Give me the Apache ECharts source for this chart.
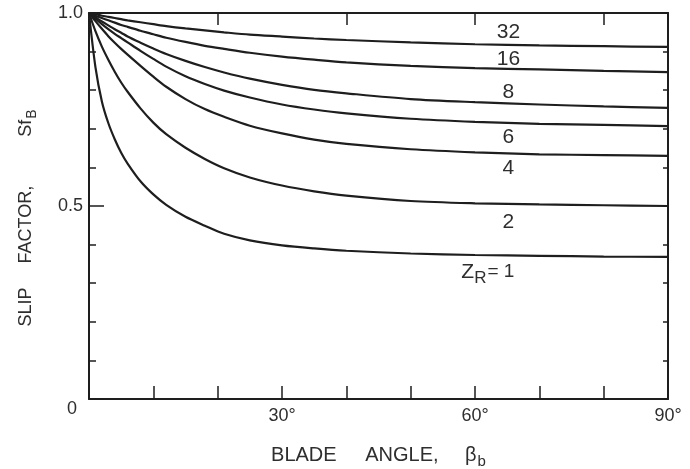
<!DOCTYPE html>
<html>
<head>
<meta charset="utf-8">
<script src="https://cdn.jsdelivr.net/npm/echarts@6/dist/echarts.min.js"></script>
<style>html,body{margin:0;padding:0;background:#fff;}#c{width:690px;height:469px;}</style>
</head>
<body>
<div id="c"></div>
<script>
// Blade angle (degrees)
const angles = [0,1,2,3,4,5,6,8,10,12,15,18,21,25,30,35,40,50,60,70,80,90];
// Slip factor read for each blade number Z_R
const z1  = [1.0,0.860,0.771,0.715,0.673,0.638,0.610,0.564,0.530,0.503,0.472,0.449,0.428,0.411,0.398,0.390,0.384,0.377,0.373,0.371,0.369,0.368];
const z2  = [1.0,0.953,0.913,0.879,0.848,0.820,0.796,0.753,0.716,0.686,0.651,0.622,0.598,0.574,0.553,0.538,0.527,0.513,0.507,0.504,0.502,0.500];
const z4  = [1.0,0.979,0.959,0.940,0.923,0.907,0.892,0.863,0.835,0.809,0.777,0.751,0.731,0.708,0.688,0.672,0.661,0.647,0.639,0.634,0.632,0.630];
const z6  = [1.0,0.985,0.971,0.958,0.946,0.935,0.924,0.902,0.881,0.861,0.836,0.816,0.799,0.781,0.763,0.750,0.740,0.726,0.718,0.713,0.710,0.707];
const z8  = [1.0,0.989,0.978,0.968,0.958,0.949,0.939,0.923,0.908,0.894,0.876,0.860,0.846,0.830,0.814,0.801,0.792,0.777,0.769,0.763,0.758,0.754];
const z16 = [1.0,0.993,0.987,0.981,0.975,0.969,0.964,0.954,0.945,0.936,0.925,0.915,0.907,0.897,0.887,0.879,0.872,0.863,0.857,0.854,0.850,0.847];
const z32 = [1.0,0.997,0.993,0.990,0.987,0.984,0.981,0.976,0.971,0.966,0.960,0.955,0.950,0.944,0.939,0.934,0.930,0.924,0.919,0.916,0.914,0.912];
const curveNames = ['1','2','4','6','8','16','32'];
const xTickLabels = {30:'30°',60:'60°',90:'90°'};
const yTickLabels = {0:'0',5:'0.5',10:'1.0'};

const FONT = 'Liberation Sans, Arial, Helvetica, sans-serif';
const INK = '#1e1e1e';
const TXT = '#2e2e2e';

const seriesData = [z1,z2,z4,z6,z8,z16,z32];
// label placement for each curve (in data coordinates)
const labelAt = {
  '1':[62,0.329], '2':[65.2,0.459], '4':[65.2,0.598], '6':[65.2,0.679],
  '8':[65.2,0.795], '16':[65.2,0.881], '32':[65.2,0.951]
};

const series = seriesData.map((vals, i) => {
  const nm = curveNames[i];
  const lbl = nm === '1' ? '{z|Z}{s|R}{e|= 1}' : nm;
  return {
    type:'line', name:'Z'+nm, xAxisIndex:0, yAxisIndex:0,
    data: angles.map((a,k)=>[a, vals[k]]),
    smooth:0.3, symbol:'none',
    lineStyle:{color:INK, width:2.2},
    silent:true,
    markPoint:{
      symbol:'circle', symbolSize:0, silent:true,
      label:{show:true, position:'inside', formatter:lbl, color:TXT, fontSize:21, fontFamily:FONT,
        rich:{
          z:{fontSize:21, fontFamily:FONT, color:TXT},
          s:{fontSize:17, fontFamily:FONT, color:TXT, padding:[12,1,0,0]},
          e:{fontSize:19, fontFamily:FONT, color:TXT}
        }},
      data:[{coord:labelAt[nm], value:nm}]
    }
  };
});

const chart = echarts.init(document.getElementById('c'), null, {renderer:'canvas'});
chart.setOption({
  backgroundColor:'#fff',
  animation:false,
  grid:{left:89, right:22, top:13, bottom:70, show:false, containLabel:false, outerBoundsMode:'none'},
  xAxis:[
    {type:'value', position:'bottom', min:0, max:90, interval:10,
     axisLine:{show:true, onZero:false, lineStyle:{color:INK, width:2}},
     axisTick:{show:true, inside:true, length:13, lineStyle:{color:INK, width:1.5}},
     splitLine:{show:false},
     axisLabel:{show:true, margin:8, color:TXT, fontSize:18, fontFamily:FONT,
       formatter:(v)=> xTickLabels[Math.round(v)] || ''},
     name:'{t|BLADE }{g|ANGLE, }{h|β}{s|b}', nameLocation:'middle', nameGap:43,
     nameTextStyle:{color:TXT, fontFamily:FONT, fontSize:20,
       rich:{t:{fontSize:20,fontFamily:FONT,color:TXT},
             g:{fontSize:20,fontFamily:FONT,color:TXT,padding:[0,0,0,23]},
             h:{fontSize:20,fontFamily:FONT,color:TXT,padding:[0,0,0,21]},
             s:{fontSize:15,fontFamily:FONT,color:TXT,padding:[12,0,0,1]}}}
    },
    {type:'value', position:'top', min:0, max:90, interval:20,
     axisLine:{show:true, onZero:false, lineStyle:{color:INK, width:2}},
     axisTick:{show:true, inside:true, length:12, lineStyle:{color:INK, width:1.5}},
     splitLine:{show:false}, axisLabel:{show:false}}
  ],
  yAxis:[
    {type:'value', position:'left', min:0, max:1, interval:0.1,
     axisLine:{show:true, onZero:false, lineStyle:{color:INK, width:2}},
     axisTick:{show:true, inside:true, length:7, lineStyle:{color:INK, width:1.5}},
     splitLine:{show:false},
     axisLabel:{show:true, margin:6, color:TXT, fontSize:18, fontFamily:FONT,
       formatter:(v)=>{ const k=Math.round(v*10); if(k===0) return '{z|0}'; return yTickLabels[k] || ''; },
       rich:{z:{fontSize:18,fontFamily:FONT,color:TXT,padding:[20,6,0,0]}}},
     name:'{t|SLIP }{g|FACTOR, }{h|Sf}{s|B}', nameLocation:'middle', nameGap:50, nameRotate:90,
     nameTextStyle:{color:TXT, fontFamily:FONT, fontSize:18,
       rich:{t:{fontSize:18,fontFamily:FONT,color:TXT},
             g:{fontSize:18,fontFamily:FONT,color:TXT,padding:[0,0,0,19]},
             h:{fontSize:18,fontFamily:FONT,color:TXT,padding:[0,0,0,44]},
             s:{fontSize:14,fontFamily:FONT,color:TXT,padding:[11,24,0,1]}}}
    },
    {type:'value', position:'left', min:0, max:1, interval:0.5,
     axisLine:{show:false, onZero:false},
     axisTick:{show:true, inside:true, length:15, lineStyle:{color:INK, width:1.5}},
     splitLine:{show:false}, axisLabel:{show:false}},
    {type:'value', position:'right', min:0, max:1, interval:0.1,
     axisLine:{show:true, onZero:false, lineStyle:{color:INK, width:2}},
     axisTick:{show:true, inside:true, length:5, lineStyle:{color:INK, width:1.5}},
     splitLine:{show:false}, axisLabel:{show:false}}
  ],
  series: series
});
</script>
</body>
</html>
